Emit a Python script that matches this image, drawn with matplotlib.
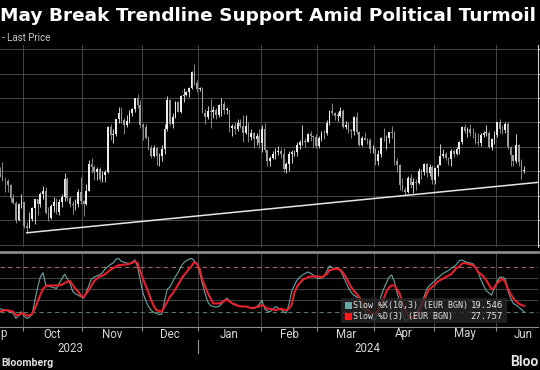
import numpy as np
import matplotlib.pyplot as plt
from matplotlib.patches import Rectangle

# EUR daily candles, one entry per trading day, 19 Sep 2023 -> 17 Jun 2024
high = [
    1.0718, 1.0737, 1.0675, 1.0670, 1.0648, 1.0606, 1.0578, 1.0570, 1.0609, 1.0576,
    1.0491, 1.0532, 1.0555, 1.0588, 1.0587, 1.0616, 1.0640, 1.0637, 1.0552, 1.0566,
    1.0593, 1.0590, 1.0587, 1.0609, 1.0695, 1.0675, 1.0600, 1.0578, 1.0586, 1.0628,
    1.0675, 1.0582, 1.0650, 1.0748, 1.0756, 1.0727, 1.0718, 1.0717, 1.0702, 1.0706,
    1.0887, 1.0895, 1.0874, 1.0914, 1.0965, 1.0965, 1.0919, 1.0930, 1.0953, 1.0958,
    1.1002, 1.1017, 1.0993, 1.0897, 1.0894, 1.0846, 1.0806, 1.0808, 1.0799, 1.0773,
    1.0806, 1.0895, 1.1009, 1.0997, 1.0939, 1.0988, 1.0989, 1.1012, 1.1040, 1.1028,
    1.1046, 1.1113, 1.1139, 1.1076, 1.1046, 1.1046, 1.0956, 1.0969, 1.0998, 1.0968,
    1.0960, 1.0975, 1.1000, 1.0988, 1.0963, 1.0952, 1.0894, 1.0902, 1.0916, 1.0914,
    1.0932, 1.0932, 1.0903, 1.0875, 1.0862, 1.0856, 1.0875, 1.0888, 1.0897, 1.0789,
    1.0764, 1.0785, 1.0794, 1.0805, 1.0794, 1.0794, 1.0737, 1.0782, 1.0787, 1.0789,
    1.0820, 1.0827, 1.0888, 1.0838, 1.0855, 1.0864, 1.0849, 1.0854, 1.0845, 1.0866,
    1.0868, 1.0912, 1.0952, 1.0981, 1.0945, 1.0941, 1.0963, 1.0957, 1.0905, 1.0902,
    1.0873, 1.0928, 1.0942, 1.0865, 1.0843, 1.0863, 1.0838, 1.0838, 1.0806, 1.0796,
    1.0789, 1.0840, 1.0876, 1.0848, 1.0862, 1.0885, 1.0866, 1.0756, 1.0731, 1.0673,
    1.0637, 1.0680, 1.0690, 1.0673, 1.0669, 1.0714, 1.0710, 1.0734, 1.0736, 1.0731,
    1.0724, 1.0718, 1.0728, 1.0812, 1.0790, 1.0780, 1.0760, 1.0790, 1.0790, 1.0800,
    1.0826, 1.0887, 1.0895, 1.0880, 1.0895, 1.0877, 1.0862, 1.0859, 1.0858, 1.0864,
    1.0889, 1.0867, 1.0838, 1.0865, 1.0904, 1.0916, 1.0888, 1.0902, 1.0900, 1.0805,
    1.0768, 1.0852, 1.0812, 1.0752, 1.0722,
]
low = [
    1.0676, 1.0660, 1.0617, 1.0615, 1.0576, 1.0567, 1.0488, 1.0496, 1.0548, 1.0468,
    1.0448, 1.0466, 1.0495, 1.0482, 1.0520, 1.0555, 1.0586, 1.0525, 1.0495, 1.0506,
    1.0534, 1.0524, 1.0522, 1.0554, 1.0577, 1.0580, 1.0555, 1.0524, 1.0541, 1.0553,
    1.0564, 1.0517, 1.0561, 1.0618, 1.0694, 1.0665, 1.0666, 1.0659, 1.0657, 1.0656,
    1.0695, 1.0828, 1.0814, 1.0845, 1.0898, 1.0899, 1.0852, 1.0880, 1.0898, 1.0925,
    1.0944, 1.0958, 1.0879, 1.0828, 1.0833, 1.0787, 1.0755, 1.0759, 1.0724, 1.0722,
    1.0744, 1.0772, 1.0866, 1.0888, 1.0876, 1.0917, 1.0941, 1.0937, 1.0985, 1.1007,
    1.1005, 1.1037, 1.1055, 1.1023, 1.1031, 1.0939, 1.0893, 1.0915, 1.0877, 1.0918,
    1.0915, 1.0923, 1.0927, 1.0936, 1.0933, 1.0863, 1.0844, 1.0853, 1.0864, 1.0877,
    1.0822, 1.0852, 1.0821, 1.0829, 1.0795, 1.0807, 1.0795, 1.0780, 1.0780, 1.0723,
    1.0723, 1.0751, 1.0751, 1.0765, 1.0756, 1.0696, 1.0695, 1.0702, 1.0733, 1.0761,
    1.0762, 1.0793, 1.0806, 1.0799, 1.0820, 1.0826, 1.0796, 1.0796, 1.0795, 1.0825,
    1.0832, 1.0850, 1.0888, 1.0930, 1.0912, 1.0906, 1.0921, 1.0876, 1.0872, 1.0858,
    1.0836, 1.0850, 1.0852, 1.0802, 1.0803, 1.0827, 1.0813, 1.0775, 1.0776, 1.0724,
    1.0725, 1.0759, 1.0823, 1.0792, 1.0814, 1.0838, 1.0727, 1.0698, 1.0622, 1.0621,
    1.0601, 1.0610, 1.0632, 1.0610, 1.0623, 1.0647, 1.0669, 1.0684, 1.0678, 1.0680,
    1.0650, 1.0650, 1.0681, 1.0725, 1.0755, 1.0745, 1.0725, 1.0723, 1.0760, 1.0765,
    1.0770, 1.0810, 1.0855, 1.0840, 1.0846, 1.0837, 1.0813, 1.0805, 1.0805, 1.0840,
    1.0844, 1.0796, 1.0789, 1.0810, 1.0842, 1.0856, 1.0851, 1.0858, 1.0790, 1.0720,
    1.0720, 1.0734, 1.0721, 1.0668, 1.0691,
]
close = [
    1.0679, 1.0661, 1.0659, 1.0645, 1.0590, 1.0570, 1.0502, 1.0566, 1.0573, 1.0476,
    1.0469, 1.0503, 1.0549, 1.0587, 1.0564, 1.0605, 1.0620, 1.0530, 1.0508, 1.0558,
    1.0576, 1.0535, 1.0576, 1.0593, 1.0670, 1.0590, 1.0566, 1.0563, 1.0564, 1.0616,
    1.0577, 1.0568, 1.0620, 1.0730, 1.0719, 1.0697, 1.0710, 1.0667, 1.0685, 1.0698,
    1.0880, 1.0848, 1.0851, 1.0913, 1.0940, 1.0911, 1.0888, 1.0905, 1.0940, 1.0954,
    1.0999, 1.0970, 1.0888, 1.0883, 1.0836, 1.0796, 1.0763, 1.0794, 1.0761, 1.0763,
    1.0792, 1.0874, 1.0993, 1.0895, 1.0922, 1.0982, 1.0943, 1.1010, 1.1013, 1.1024,
    1.1043, 1.1105, 1.1061, 1.1039, 1.1040, 1.0940, 1.0922, 1.0946, 1.0941, 1.0950,
    1.0930, 1.0973, 1.0975, 1.0951, 1.0951, 1.0877, 1.0885, 1.0874, 1.0897, 1.0885,
    1.0855, 1.0885, 1.0840, 1.0855, 1.0834, 1.0844, 1.0818, 1.0873, 1.0786, 1.0743,
    1.0755, 1.0772, 1.0779, 1.0784, 1.0772, 1.0709, 1.0728, 1.0771, 1.0778, 1.0778,
    1.0808, 1.0819, 1.0823, 1.0820, 1.0851, 1.0845, 1.0839, 1.0805, 1.0838, 1.0856,
    1.0855, 1.0899, 1.0947, 1.0938, 1.0927, 1.0927, 1.0947, 1.0882, 1.0888, 1.0867,
    1.0865, 1.0922, 1.0860, 1.0808, 1.0838, 1.0830, 1.0827, 1.0790, 1.0790, 1.0742,
    1.0771, 1.0836, 1.0835, 1.0836, 1.0860, 1.0855, 1.0743, 1.0726, 1.0642, 1.0625,
    1.0617, 1.0671, 1.0643, 1.0655, 1.0654, 1.0702, 1.0697, 1.0728, 1.0693, 1.0719,
    1.0665, 1.0713, 1.0727, 1.0762, 1.0770, 1.0754, 1.0749, 1.0782, 1.0770, 1.0790,
    1.0819, 1.0883, 1.0865, 1.0872, 1.0857, 1.0856, 1.0822, 1.0818, 1.0847, 1.0857,
    1.0858, 1.0801, 1.0834, 1.0848, 1.0903, 1.0875, 1.0868, 1.0893, 1.0801, 1.0765,
    1.0741, 1.0809, 1.0739, 1.0703, 1.0705,
]
first_open = 1.0690

# stochastic panel
slow_k = [
    24, 23, 22, 21, 19, 18, 11, 15, 20, 14,
    11, 13, 16, 35, 52, 66, 72, 56, 54, 53,
    52, 51, 58, 64, 70, 64, 58, 47, 44, 42,
    40, 38, 46, 55, 64, 66, 68, 69, 72, 77,
    80, 83, 85, 90, 91, 87, 86, 85, 84, 86,
    89, 80, 62, 45, 35, 27, 22, 19, 18, 16,
    17, 35, 50, 53, 60, 67, 72, 80, 85, 88,
    90, 91, 88, 83, 72, 57, 44, 33, 28, 27,
    26, 27, 30, 35, 38, 35, 31, 29, 28, 27,
    27, 27, 26, 25, 24, 26, 30, 35, 24, 21,
    20, 23, 27, 25, 23, 20, 18, 30, 47, 55,
    62, 66, 69, 71, 73, 71, 69, 66, 64, 65,
    67, 74, 81, 79, 77, 78, 75, 68, 60, 52,
    46, 42, 40, 36, 28, 22, 16, 12, 10, 9,
    22, 40, 50, 58, 66, 69, 60, 45, 33, 18,
    8, 10, 11, 14, 18, 25, 32, 40, 50, 55,
    58, 61, 65, 68, 71, 73, 75, 78, 80, 83,
    88, 89, 87, 86, 85, 84, 80, 73, 63, 55,
    48, 45, 42, 52, 60, 66, 66, 64, 48, 38,
    31, 29, 26, 23, 19.546,
]
slow_d = [
    20, 21, 22, 22, 21, 20, 16, 15, 18, 17,
    15, 15, 17, 24, 33, 42, 50, 54, 55, 55,
    55, 55, 55, 56, 58, 60, 61, 56, 51, 47,
    42, 39, 44, 49, 55, 61, 64, 67, 68, 70,
    73, 76, 78, 80, 82, 82, 83, 83, 84, 85,
    87, 85, 74, 64, 55, 46, 36, 28, 22, 21,
    20, 27, 33, 40, 44, 50, 56, 62, 68, 72,
    77, 81, 86, 84, 77, 62, 54, 45, 38, 31,
    31, 31, 32, 34, 36, 34, 31, 30, 28, 27,
    27, 27, 26, 25, 25, 26, 27, 29, 27, 24,
    24, 23, 22, 23, 24, 23, 22, 24, 29, 45,
    53, 58, 62, 64, 66, 67, 67, 67, 67, 66,
    68, 70, 75, 76, 77, 77, 76, 72, 67, 60,
    53, 48, 44, 40, 33, 28, 23, 19, 17, 17,
    22, 30, 37, 46, 52, 55, 55, 50, 44, 32,
    22, 15, 12, 12, 14, 19, 27, 35, 44, 50,
    53, 56, 60, 62, 64, 66, 68, 70, 74, 78,
    80, 84, 85, 84, 83, 82, 79, 73, 70, 67,
    62, 56, 50, 52, 58, 61, 64, 60, 51, 44,
    38, 34, 31, 29, 27.757,
]

# "Sep" only shows its last letter at the left crop of the original
month_names = ["p", "Oct", "Nov", "Dec", "Jan", "Feb", "Mar", "Apr", "May", "Jun"]
month_first_day = [-12, 9, 31, 53, 74, 97, 118, 139, 161, 184, 204]
years = ["2023", "2024"]
year_pos = [26, 136]
price_levels = [1.04, 1.05, 1.06, 1.07, 1.08, 1.09, 1.10, 1.11, 1.12]
trend_days = [10, 150]
trend_prices = [1.0448, 1.0601]

title = "May Break Trendline Support Amid Political Turmoil"

W, H = 540, 370


def fx(px):
    return px / W


def fy(py):
    return 1 - py / H


high = np.array(high)
low = np.array(low)
close = np.array(close)
opn = np.r_[first_open, close[:-1]]
days = np.arange(len(close))

bounds = np.array(month_first_day[1:-1]) - 0.5
centers = [(a + b - 1) / 2 for a, b in zip(month_first_day[:-1], month_first_day[1:])]
xlim = (0.1, 0.1 + 538 / 2.703)
grid_c = "#474747"

fig = plt.figure(figsize=(W / 100, H / 100), dpi=100, facecolor="black")

# price panel
ax1 = fig.add_axes([0, fy(247), fx(538), (247 - 45) / H], facecolor="black")
ax1.set_xlim(*xlim)
ax1.set_ylim(1.12 - (247 - 49.3) / 2440, 1.12 + (49.3 - 45) / 2440)
ax1.set_yticks(price_levels)
ax1.set_xticks(bounds)
ax1.grid(True, color=grid_c, lw=0.7)
ax1.tick_params(axis="x", length=0, labelbottom=False)
ax1.tick_params(axis="y", left=False, labelleft=False, right=True, labelright=False,
                direction="out", length=3, color="#cfcfcf")
for s in ["left", "top", "bottom"]:
    ax1.spines[s].set_visible(False)
ax1.spines["right"].set_color("#cfcfcf")
ax1.set_axisbelow(True)

up = close >= opn
cols = np.where(up, "#ececec", "#9c9c9c")
ax1.vlines(days, low, high, colors=cols, lw=0.6, zorder=3)
body = np.maximum(np.abs(close - opn), 0.00025)
ax1.bar(days, body, bottom=np.minimum(opn, close), width=0.62, color=cols,
        linewidth=0, zorder=4)

slope = (trend_prices[1] - trend_prices[0]) / (trend_days[1] - trend_days[0])
tx = np.array([trend_days[0], xlim[1] + 2])
ax1.plot(tx, trend_prices[0] + slope * (tx - trend_days[0]), color="#e6e6e6",
         lw=1.1, zorder=5)

# stochastic panel
ax2 = fig.add_axes([0, fy(326.7), fx(538), 75 / H], facecolor="black")
ax2.set_xlim(*xlim)
ax2.set_ylim(0, 100)
ax2.set_xticks(bounds)
ax2.grid(True, axis="x", color=grid_c, lw=0.7)
ax2.set_yticks([])
ax2.tick_params(axis="x", direction="out", length=3, color="#8c8c8c", labelbottom=False)
for lv in [35, 50, 65]:
    ax2.axhline(lv, color=grid_c, lw=0.7)
ax2.axhline(80, color="#a06464", lw=0.8, dashes=(4, 3))
ax2.axhline(20, color="#557a5e", lw=0.8, dashes=(4, 3))
for s in ["left", "right"]:
    ax2.spines[s].set_visible(False)
ax2.spines["top"].set_color("#8a8a8a")
ax2.spines["top"].set_linewidth(2)
ax2.spines["bottom"].set_color("#8c8c8c")
ax2.set_axisbelow(True)

ax2.plot(days, slow_k, color="#6aa6a6", lw=0.8, zorder=3)
ax2.plot(days, slow_d, color="#e8202a", lw=1.5, zorder=4)

xt = ax2.get_xaxis_transform()
for name, c in zip(month_names[1:], centers[1:]):
    ax2.text(c, -(334 - 326.7) / 75, name, transform=xt, ha="center", va="center",
             color="#d8d8d8", fontsize=8.3, family="Roboto")
fig.text(fx(0.5), fy(334), month_names[0], ha="left", va="center",
         color="#d8d8d8", fontsize=8.3, family="Roboto")
for yr, p in zip(years, year_pos):
    ax2.text(p, -(348 - 326.7) / 75, yr, transform=xt, ha="center", va="center",
             color="#d8d8d8", fontsize=8.3, family="Roboto")
ax2.plot([bounds[3], bounds[3]], [-(340 - 326.7) / 75, -(353 - 326.7) / 75],
         transform=xt, color="#9a9a9a", lw=0.8, clip_on=False)

# legend box
fig.add_artist(Rectangle((fx(341), fy(323)), 166 / W, 25 / H, transform=fig.transFigure,
                         facecolor="#262626", edgecolor="none", alpha=0.8, zorder=5))
fig.add_artist(Rectangle((fx(345), fy(308.5)), 6.5 / W, 6.5 / H, transform=fig.transFigure,
                         facecolor="#6aa6a6", edgecolor="none", zorder=6))
fig.add_artist(Rectangle((fx(345), fy(319.5)), 6.5 / W, 6.5 / H, transform=fig.transFigure,
                         facecolor="#ff1a1a", edgecolor="none", zorder=6))
leg_font = dict(color="#e4e4e4", family="DejaVu Sans Mono", va="center", zorder=7)
fig.text(fx(353), fy(305.5), "Slow %K(10,3) (EUR BGN)", ha="left", fontsize=6.0, **leg_font)
fig.text(fx(353), fy(316.5), "Slow %D(3) (EUR BGN)", ha="left", fontsize=6.0, **leg_font)
fig.text(fx(503), fy(305.5), f"{slow_k[-1]:.3f}", ha="right", fontsize=6.5, **leg_font)
fig.text(fx(503), fy(316.5), f"{slow_d[-1]:.3f}", ha="right", fontsize=6.5, **leg_font)

# titles and footer
fig.text(fx(0.5), fy(21), title, ha="left", va="baseline", color="white",
         fontsize=13.3, fontweight="bold", family="DejaVu Sans")
fig.text(fx(2), fy(38), "- Last Price", ha="left", va="center", color="#c8c8c8",
         fontsize=7, family="Roboto")
fig.text(fx(1), fy(366), "Bloomberg", ha="left", va="baseline", color="#e0e0e0",
         fontsize=7.6, fontweight="bold", family="Roboto")
# the logo at the bottom right is cropped to its first letters in the original
fig.text(fx(510), fy(366), "Bloo", ha="left", va="baseline", color="#e0e0e0",
         fontsize=10, fontweight="bold", family="Roboto")

fig.savefig("out.png", dpi=100, facecolor="black")
